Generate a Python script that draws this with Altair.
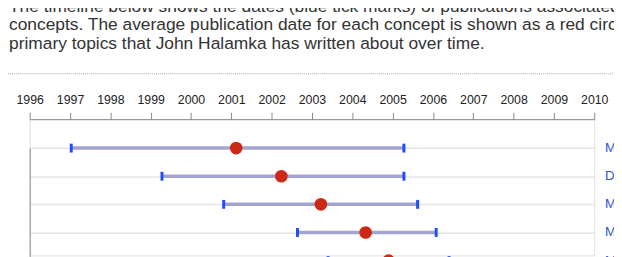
import altair as alt
import pandas as pd

# ---- data ----
concepts = [
    "Medical Records Systems, Computerized",
    "Delivery of Health Care",
    "Medical Informatics",
    "Massachusetts",
    "Medical Informatics Applications",
]
first_pub = [1997.03, 1999.28, 2000.81, 2002.64, 2003.40]
last_pub = [2005.28, 2005.28, 2005.62, 2006.08, 2006.40]
mean_pub = [2001.12, 2002.24, 2003.22, 2004.33, 2004.90]
years = list(range(1996, 2011))

header_lines = [
    "The timeline below shows the dates (blue tick marks) of publications associated with John Halamka's top",
    "concepts. The average publication date for each concept is shown as a red circle, illustrating the",
    "primary topics that John Halamka has written about over time.",
]
header_baselines = [-108.5, -90.0, -71.5]

FONT = "Liberation Sans"

rows = pd.DataFrame({"concept": concepts, "first": first_pub, "last": last_pub, "mean": mean_pub})
ticks = pd.DataFrame({
    "concept": concepts + concepts,
    "date": first_pub + last_pub,
})

x_scale = alt.Scale(domain=[1996, 2010], nice=False, zero=False)
y_scale = alt.Scale(type="point", domain=concepts, range=[29.3, 143.3], padding=0)

x_axis = alt.Axis(orient="top", values=years, format="d", title=None, grid=False,
                  labelOverlap=False, labelFlush=False,
                  labelFont=FONT, labelFontSize=12.5, labelColor="#222",
                  tickColor="#888", tickSize=7, domainColor="#888", labelPadding=6)
y_axis = alt.Axis(title=None, labels=False, ticks=False, domain=True, domainColor="#888",
                  grid=True, gridColor="#e6e6e6", gridWidth=1.5)

base = alt.Chart(rows)

ranges = base.mark_rule(color="#a3a3d0", strokeWidth=3.5).encode(
    x=alt.X("first:Q", scale=x_scale, axis=x_axis),
    x2="last:Q",
    y=alt.Y("concept:N", scale=y_scale, axis=y_axis, sort=concepts),
)

tick_marks = alt.Chart(ticks).mark_tick(color="#1f4cff", thickness=3, size=9, opacity=1).encode(
    x=alt.X("date:Q"),
    y=alt.Y("concept:N", sort=concepts),
)

circles = base.mark_circle(color="#cc2a16", size=165, opacity=1).encode(
    x=alt.X("mean:Q"),
    y=alt.Y("concept:N", sort=concepts),
)

labels = base.mark_text(align="left", baseline="middle", dx=11, font=FONT,
                        fontSize=13.5, color="#2f55d4").encode(
    x=alt.datum(2010),
    y=alt.Y("concept:N", sort=concepts),
    text="concept:N",
)

head_layers = []
for line, yb in zip(header_lines, header_baselines):
    head_layers.append(
        alt.Chart(pd.DataFrame({"line": [line]})).mark_text(
            align="left", baseline="alphabetic", font=FONT, fontSize=17.6, color="#333"
        ).encode(x=alt.value(-21), y=alt.value(yb), text="line:N")
    )

dots = alt.Chart(pd.DataFrame({"k": [0]})).mark_rule(color="#aaa", strokeDash=[1, 1], strokeWidth=1).encode(
    x=alt.value(-22), x2=alt.value(592), y=alt.value(-46),
)

chart = alt.layer(ranges, tick_marks, circles, labels, *head_layers, dots).properties(
    width=572, height=138,
    autosize=alt.AutoSizeParams(type="none"),
    padding={"left": 22, "top": 111, "right": 20, "bottom": 0},
).configure_view(stroke=None).configure(background="white")

chart.save("out.html", embed_options={"renderer": "svg", "actions": False})
